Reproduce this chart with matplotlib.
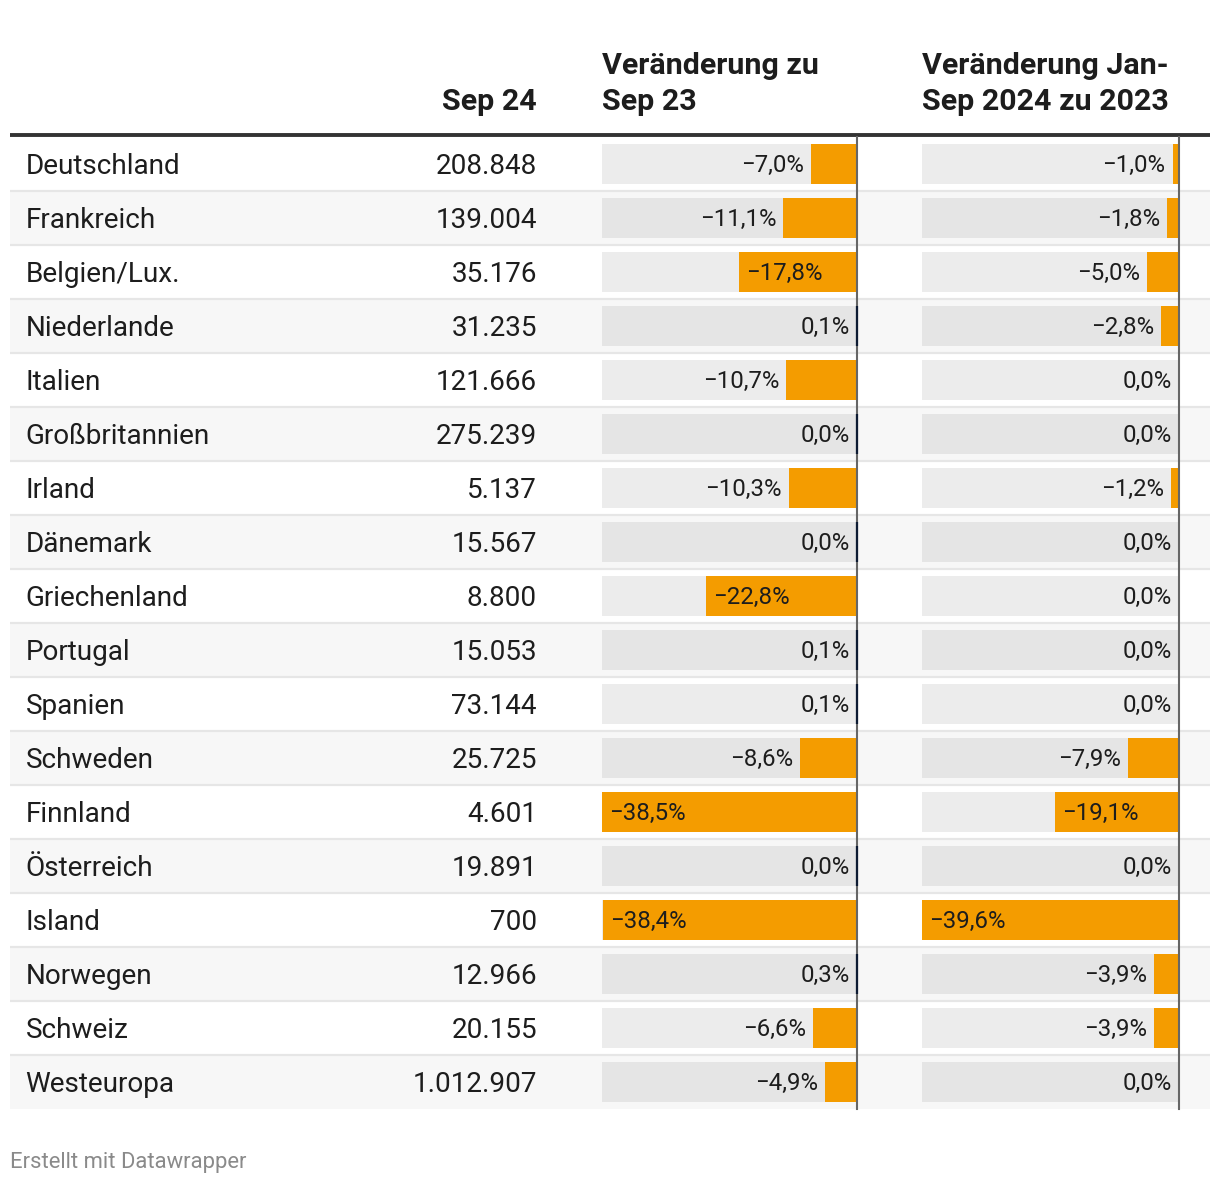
import matplotlib
matplotlib.use("Agg")
import matplotlib.pyplot as plt
from matplotlib.transforms import offset_copy
from matplotlib.lines import Line2D

countries = ["Deutschland", "Frankreich", "Belgien/Lux.", "Niederlande", "Italien",
             "Großbritannien", "Irland", "Dänemark", "Griechenland", "Portugal",
             "Spanien", "Schweden", "Finnland", "Österreich", "Island",
             "Norwegen", "Schweiz", "Westeuropa"]
sep24 = [208848, 139004, 35176, 31235, 121666, 275239, 5137, 15567, 8800, 15053,
         73144, 25725, 4601, 19891, 700, 12966, 20155, 1012907]
chg_sep23 = [-7.0, -11.1, -17.8, 0.1, -10.7, 0.0, -10.3, 0.0, -22.8, 0.1,
             0.1, -8.6, -38.5, 0.0, -38.4, 0.3, -6.6, -4.9]
chg_ytd = [-1.0, -1.8, -5.0, -2.8, 0.0, 0.0, -1.2, 0.0, 0.0, 0.0,
           0.0, -7.9, -19.1, 0.0, -39.6, -3.9, -3.9, 0.0]
headers = ["Sep 24", ["Veränderung zu", "Sep 23"], ["Veränderung Jan-", "Sep 2024 zu 2023"]]
footer = "Erstellt mit Datawrapper"

FONT = ["Roboto", "DejaVu Sans"]
plt.rcParams["font.family"] = FONT

W, H = 1220, 1184
fig = plt.figure(figsize=(W / 100, H / 100), dpi=100)
fig.patch.set_facecolor("white")

def fx(x):
    return x / W

def fy(y):
    return 1 - y / H

TOP, ROWH = 137, 54
n = len(countries)
BOT = TOP + ROWH * n

TXT = "#1d1d1d"
ORANGE = "#f49c00"
STRIPE = "#f7f7f7"
SEP = "#e6e6e6"
BG_W = "#ececec"
BG_G = "#e5e5e5"

# background axes in pixel units
ax_bg = fig.add_axes([0, 0, 1, 1])
ax_bg.set_xlim(0, W)
ax_bg.set_ylim(H, 0)
ax_bg.axis("off")

hsize = 21.9
ax_bg.text(537, 110, headers[0], ha="right", va="baseline", fontsize=hsize,
           fontweight="bold", color=TXT)
for x0, lines in [(602, headers[1]), (922, headers[2])]:
    ax_bg.text(x0, 74, lines[0], ha="left", va="baseline", fontsize=hsize,
               fontweight="bold", color=TXT)
    ax_bg.text(x0, 110, lines[1], ha="left", va="baseline", fontsize=hsize,
               fontweight="bold", color=TXT)
ax_bg.add_line(Line2D([10, 1210], [135, 135], color="#333333", lw=2.8,
                      solid_capstyle="butt"))
ax_bg.text(10, 1168, footer, ha="left", va="baseline", fontsize=15.8, color="#8a8a8a")

# table axes (rows as units)
ax_t = fig.add_axes([fx(10), fy(BOT), 1200 / W, (BOT - TOP) / H])
ax_t.set_xlim(10, 1210)
ax_t.set_ylim(n, 0)
ax_t.axis("off")
ax_t.patch.set_alpha(0)
BODY = 20.1
for i in range(n):
    if i % 2 == 1:
        ax_t.axhspan(i, i + 1, color=STRIPE, lw=0, zorder=0)
    if i > 0:
        ax_t.axhline(i, color=SEP, lw=1.6, zorder=1)
    ax_t.text(25.5, i + 0.676, countries[i], ha="left", va="baseline",
              fontsize=BODY, color=TXT)
    ax_t.text(537, i + 0.676, f"{sep24[i]:,}".replace(",", "."), ha="right",
              va="baseline", fontsize=BODY, color=TXT)

def fmt_pct(v):
    s = f"{abs(v):.1f}".replace(".", ",") + "%"
    return ("\u2212" + s) if v < 0 else s

def bar_column(x0, x1, vals, pos_color=None):
    ax = fig.add_axes([fx(x0), fy(BOT), (x1 - x0) / W, (BOT - TOP) / H])
    dom = min(vals)
    ax.set_xlim(dom, 0)
    ax.set_ylim(n, 0)
    ax.axis("off")
    ax.patch.set_alpha(0)
    bh = 40 / 54
    ys = [i + 0.5 for i in range(n)]
    bgc = [BG_W if i % 2 == 0 else BG_G for i in range(n)]
    ax.barh(ys, [dom] * n, height=bh, color=bgc, lw=0, zorder=1)
    ax.barh(ys, vals, height=bh, color=ORANGE, lw=0, zorder=2)
    ax.axvline(0, color="#666666", lw=1.5, zorder=3, clip_on=False)
    if pos_color:
        for i, v in enumerate(vals):
            if v >= 0:
                ax.vlines(0, i + 0.5 - bh / 2, i + 0.5 + bh / 2, color=pos_color,
                          lw=1.6, zorder=3.5, clip_on=False)
    pxw = (x1 - x0)
    tr_in = offset_copy(ax.transData, fig=fig, x=7, y=0, units="dots")
    tr_out = offset_copy(ax.transData, fig=fig, x=-7, y=0, units="dots")
    for i, v in enumerate(vals):
        wpx = abs(v) / abs(dom) * pxw
        lab = fmt_pct(v)
        if v < 0 and wpx > 95:
            ax.text(v, i + 0.648, lab, ha="left", va="baseline", fontsize=17.3,
                    color=TXT, transform=tr_in, zorder=4)
        else:
            xv = min(v, 0)
            ax.text(xv, i + 0.648, lab, ha="right", va="baseline", fontsize=17.3,
                    color=TXT, transform=tr_out, zorder=4)
    return ax

bar_column(602, 857, chg_sep23, pos_color="#0d1b33")
bar_column(922, 1179, chg_ytd)

fig.savefig("out.png", dpi=100, facecolor="white")
